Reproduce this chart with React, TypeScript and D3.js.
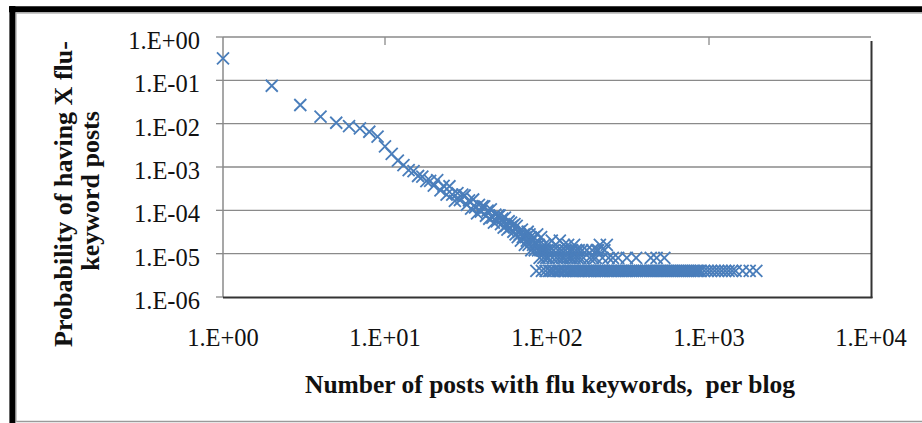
import React from "react";
import * as d3 from "d3";

// ---------- data ----------
const xTickValues = [1, 10, 100, 1000, 10000];
const xTickLabels = ["1.E+00", "1.E+01", "1.E+02", "1.E+03", "1.E+04"];
const yTickValues = [1, 1e-1, 1e-2, 1e-3, 1e-4, 1e-5, 1e-6];
const yTickLabels = ["1.E+00", "1.E-01", "1.E-02", "1.E-03", "1.E-04", "1.E-05", "1.E-06"];

const headPosts = [1, 2, 3, 4, 5, 6, 7, 8, 9, 10, 11, 12, 13, 14, 15, 16, 17, 18, 19, 20];
const headProb = [0.32, 0.075, 0.027, 0.0145, 0.0105, 0.0088, 0.0078, 0.0065, 0.005, 0.003,
  0.002, 0.0014, 0.0011, 0.00085, 0.0008, 0.00062, 0.0006, 0.00047, 0.00048, 0.00037];

const bodyPosts = [21, 22, 23, 24, 25, 26, 27, 28, 29, 30, 31, 32, 33, 34, 35, 36, 37, 38, 39, 40,
  41, 42, 43, 44, 45, 46, 47, 48, 49, 50, 51, 52, 53, 54, 55, 56, 57, 58, 59, 60,
  61, 62, 63, 64, 65, 66, 67, 68, 69, 70, 71, 72, 73, 74, 75, 76, 77, 78, 79, 80,
  81, 82, 83, 84, 85, 87, 88, 89, 90, 91, 92, 94, 95, 96, 97, 99, 100];
const bodyProb = [5.0e-4, 2.9e-4, 3.65e-4, 2.3e-4, 3.6e-4, 2.3e-4, 1.66e-4, 2.5e-4, 1.73e-4, 2.3e-4,
  2.2e-4, 1.33e-4, 1.7e-4, 1.1e-4, 1.78e-4, 1.17e-4, 8.5e-5, 1.33e-4, 9.4e-5, 1.25e-4,
  1.24e-4, 7.5e-5, 9.8e-5, 6.4e-5, 1.05e-4, 6.8e-5, 5.2e-5, 8.0e-5, 5.6e-5, 7.6e-5,
  7.6e-5, 4.8e-5, 6.4e-5, 4.0e-5, 6.8e-5, 4.4e-5, 3.6e-5, 5.6e-5, 4.0e-5, 5.2e-5,
  4.4e-5, 3.2e-5, 4.8e-5, 2.8e-5, 4.4e-5, 2.4e-5, 3.2e-5, 2.8e-5, 2.0e-5, 3.6e-5,
  2.4e-5, 2.8e-5, 1.6e-5, 2.4e-5, 2.0e-5, 3.2e-5, 1.6e-5, 2.8e-5, 2.4e-5, 1.2e-5,
  2.0e-5, 1.6e-5, 2.4e-5, 1.2e-5, 1.6e-5, 2.8e-5, 1.2e-5, 1.6e-5, 8.0e-6, 1.2e-5,
  2.4e-5, 1.2e-5, 8.0e-6, 1.6e-5, 1.2e-5, 8.0e-6, 1.2e-5];

const tailPosts = [101, 102, 104, 107, 108, 110, 113, 114, 117, 119, 120, 123, 124, 127, 128, 130,
  134, 135, 138, 139, 142, 143, 147, 148, 151, 154, 157, 160, 165, 168, 176, 183, 190, 192,
  200, 203, 207, 212, 220, 226, 234, 240, 255, 275, 311, 355, 437, 475, 530];
const tailProb = [1.6e-5, 8e-6, 1.2e-5, 2.0e-5, 8e-6, 1.2e-5, 1.6e-5, 8e-6, 1.2e-5, 8e-6, 2.0e-5,
  1.2e-5, 8e-6, 1.6e-5, 8e-6, 1.2e-5, 8e-6, 1.6e-5, 1.2e-5, 8e-6, 8e-6, 1.2e-5, 1.6e-5, 8e-6,
  1.2e-5, 8e-6, 1.2e-5, 8e-6, 1.2e-5, 8e-6, 1.2e-5, 8e-6, 1.2e-5, 8e-6, 8e-6, 1.2e-5, 1.2e-5,
  1.6e-5, 8e-6, 1.2e-5, 1.6e-5, 8e-6, 8e-6, 8e-6, 8e-6, 8e-6, 8e-6, 8e-6, 8e-6];

// single-blog level (the flat floor of the distribution)
const floorProb = 4e-6;
const floorPosts = [86, 93, 98, 103, 105, 109, 111, 116, 118, 121, 126, 129, 131, 136, 140, 144,
  146, 150, 155, 159, 163, 167, 170, 174, 178, 181, 185, 189, 195, 198, 204, 209, 215, 219, 224,
  231, 237, 244, 249, 257, 263, 272, 279, 288, 296, 305, 313, 322, 332, 341, 352, 361, 373, 384,
  395, 407, 419, 432, 444, 457, 471, 484, 498, 513, 527, 544, 559, 577, 593, 611, 628, 646, 666,
  685, 704, 726, 747, 768, 791, 813, 838, 862, 889, 934, 982, 1031, 1084, 1139, 1197, 1258, 1322,
  1389, 1460, 1613, 1783, 1960];

const xTitle = "Number of posts with flu keywords,  per blog";
const yTitle1 = "Probability of having X flu-";
const yTitle2 = "keyword posts";

// ---------- layout ----------
const W = 922;
const H = 423;
const plot = { left: 223, right: 871, top: 37, bottom: 297 };
const markerColor = "#4A7EBB";
const gridColor = "#8a8a8a";
const font = "'Liberation Serif', 'Times New Roman', serif";

export default function App() {
  const x = d3.scaleLog().domain([1, 10000]).range([plot.left, plot.right]);
  const y = d3.scaleLog().domain([1, 1e-6]).range([plot.top, plot.bottom]);

  const points: [number, number][] = [];
  headPosts.forEach((v, i) => points.push([v, headProb[i]]));
  bodyPosts.forEach((v, i) => points.push([v, bodyProb[i]]));
  tailPosts.forEach((v, i) => points.push([v, tailProb[i]]));
  floorPosts.forEach((v) => points.push([v, floorProb]));

  const cross = "M-6,-6L6,6M-6,6L6,-6";

  return (
    <svg width={W} height={H} style={{ position: "absolute", left: 0, top: 0, background: "#fff" }}>
      <rect x={0} y={0} width={W} height={H} fill="#fff" />
      {/* outer frame */}
      <line x1={16} x2={W} y1={421.5} y2={421.5} stroke="#9a9a9a" strokeWidth={1.5} />
      <line x1={16} x2={W} y1={13.2} y2={13.2} stroke="#b0b0b0" strokeWidth={1} />
      <line x1={16.2} x2={16.2} y1={13} y2={422} stroke="#b0b0b0" strokeWidth={1} />
      <line x1={9} x2={W} y1={9.2} y2={9.2} stroke="#000" strokeWidth={6} />
      <line x1={12.4} x2={12.4} y1={6} y2={H} stroke="#000" strokeWidth={6} />

      {/* gridlines */}
      {yTickValues.slice(1, -1).map((v) => (
        <line key={"g" + v} x1={plot.left} x2={plot.right} y1={y(v)} y2={y(v)} stroke={gridColor} strokeWidth={1.3} />
      ))}
      {/* y tick marks */}
      {yTickValues.map((v) => (
        <line key={"t" + v} x1={plot.left - 7} x2={plot.left} y1={y(v)} y2={y(v)} stroke={gridColor} strokeWidth={1.3} />
      ))}
      {/* top tick stubs */}
      {[10, 1000].map((v) => (
        <line key={"tt" + v} x1={x(v)} x2={x(v)} y1={plot.top} y2={plot.top + 8} stroke={gridColor} strokeWidth={1.3} />
      ))}
      {/* plot border */}
      <line x1={plot.left} x2={plot.right} y1={plot.top} y2={plot.top} stroke={gridColor} strokeWidth={1.5} />
      <line x1={plot.left} x2={plot.left} y1={plot.top} y2={plot.bottom} stroke={gridColor} strokeWidth={1.5} />
      <line x1={plot.right + 0.5} x2={plot.right + 0.5} y1={plot.top + 4} y2={plot.bottom + 1} stroke="#333" strokeWidth={2} />
      <line x1={plot.left} x2={plot.right + 1.5} y1={plot.bottom + 0.5} y2={plot.bottom + 0.5} stroke="#333" strokeWidth={2} />

      {/* markers */}
      <g stroke={markerColor} strokeWidth={1.85} fill="none">
        {points.map(([px, py], i) => (
          <path key={i} d={cross} transform={`translate(${x(px)},${y(py)})`} />
        ))}
      </g>

      {/* y tick labels */}
      <g fontFamily={font} fontSize={24.5} fill="#111" textAnchor="end">
        {yTickValues.map((v, i) => (
          <text key={"yl" + v} x={200} y={y(v) + 12}>{yTickLabels[i]}</text>
        ))}
      </g>
      {/* x tick labels */}
      <g fontFamily={font} fontSize={24.5} fill="#111" textAnchor="middle">
        {xTickValues.map((v, i) => (
          <text key={"xl" + v} x={x(v)} y={346}>{xTickLabels[i]}</text>
        ))}
      </g>

      {/* axis titles */}
      <text x={550} y={393} textAnchor="middle" fontFamily={font} fontSize={25.5} fontWeight="bold" fill="#111" style={{ whiteSpace: "pre" }}>
        {xTitle}
      </text>
      <g fontFamily={font} fontSize={26} fontWeight="bold" fill="#111" textAnchor="middle">
        <text transform={`translate(72,194) rotate(-90)`}>{yTitle1}</text>
        <text transform={`translate(99,191) rotate(-90)`}>{yTitle2}</text>
      </g>
    </svg>
  );
}
